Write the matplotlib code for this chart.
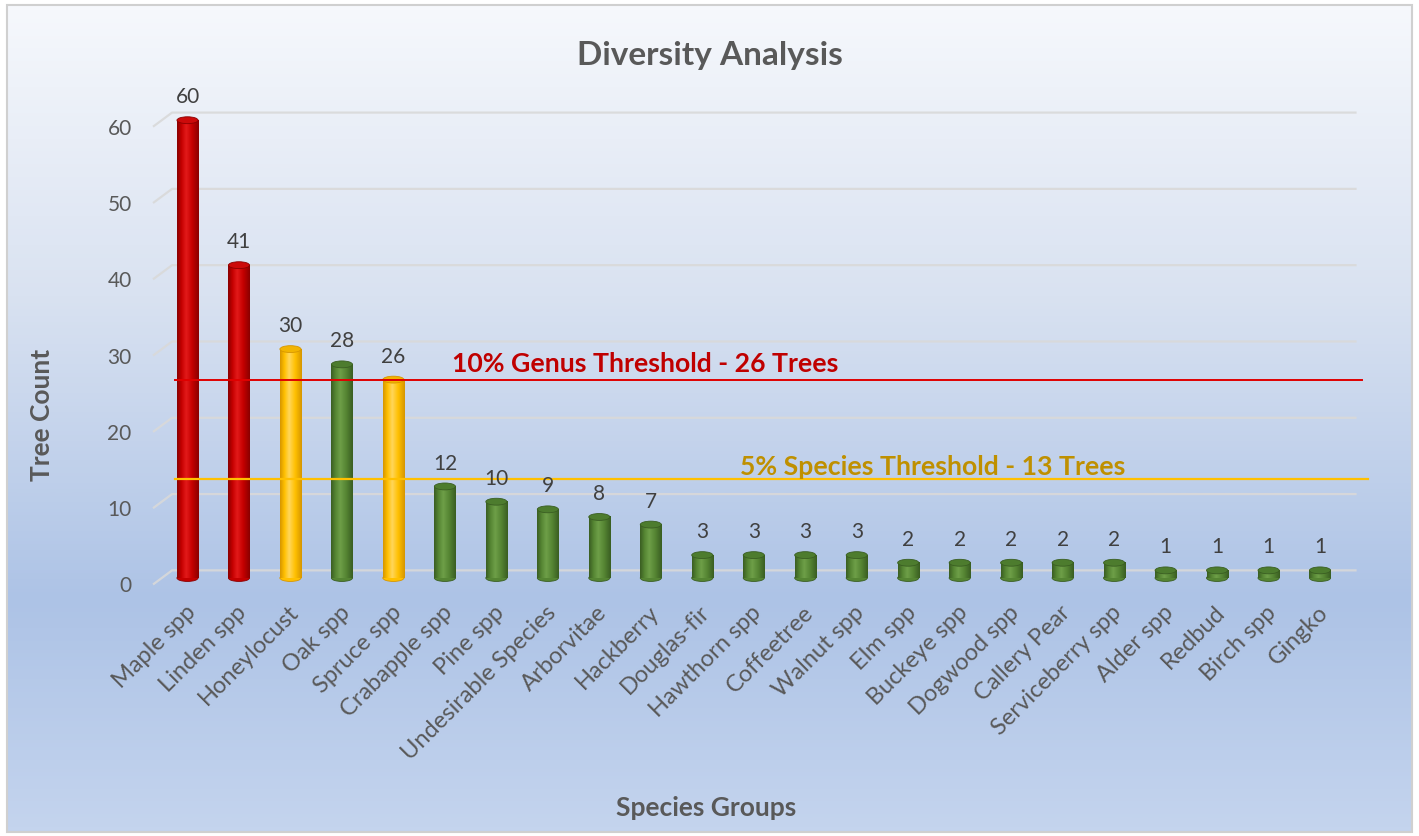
import numpy as np
import matplotlib
matplotlib.use("Agg")
import matplotlib.pyplot as plt
from matplotlib.patches import Ellipse, Rectangle
from matplotlib.colors import LinearSegmentedColormap
from matplotlib.transforms import ScaledTranslation

# Données
species = ["Maple spp", "Linden spp", "Honeylocust", "Oak spp", "Spruce spp",
           "Crabapple spp", "Pine spp", "Undesirable Species", "Arborvitae",
           "Hackberry", "Douglas-fir", "Hawthorn spp", "Coffeetree", "Walnut spp",
           "Elm spp", "Buckeye spp", "Dogwood spp", "Callery Pear",
           "Serviceberry spp", "Alder spp", "Redbud", "Birch spp", "Gingko"]
counts = [60, 41, 30, 28, 26, 12, 10, 9, 8, 7, 3, 3, 3, 3, 2, 2, 2, 2, 2, 1, 1, 1, 1]
status = ["genus", "genus", "species", "ok", "species"] + ["ok"] * 18
yticks = [0, 10, 20, 30, 40, 50, 60]
genus_threshold = 26
species_threshold = 13

# Couleurs des cylindres : bord, milieu, reflet, dessus
shades = {
    "genus": ("#8a0000", "#c40000", "#e31a1a", "#cc0a0a"),
    "species": ("#d69600", "#ffc000", "#ffd65a", "#f2b400"),
    "ok": ("#3a5e22", "#558533", "#6e9f48", "#4d7c2e"),
}

plt.rcParams["font.family"] = ["Lato", "DejaVu Sans"]

W, H = 1419, 836
fig = plt.figure(figsize=(W / 100, H / 100), dpi=100)

# fond dégradé du graphique
bg = fig.add_axes([7 / W, 4 / H, 1405 / W, 827 / H], zorder=0)
bg.axis("off")
grad_cmap = LinearSegmentedColormap.from_list(
    "bg", [(0.0, "#f6f8fc"), (0.35, "#d9e2f1"), (0.72, "#adc3e6"), (1.0, "#c4d4ee")])
bg.imshow(np.linspace(0, 1, 256)[:, None], cmap=grad_cmap, aspect="auto",
          extent=[0, 1, 1, 0], interpolation="bicubic")
bg.set_xlim(0, 1)
bg.set_ylim(1, 0)
fig.patches.append(Rectangle((7 / W, 4 / H), 1405 / W, 827 / H, transform=fig.transFigure,
                             fill=False, edgecolor="#d0d0d0", linewidth=1.5, zorder=5))

ax = fig.add_axes([140 / W, (H - 592) / H, 1255 / W, 492 / H], zorder=1)
ax.set_facecolor("none")

x = np.arange(len(species))
bw = 0.41
eh = 0.9

# grille en perspective (mur du fond)
for v in yticks:
    ax.plot([-0.67, -0.30, 22.71], [v - 0.85, v + 1.0, v + 1.0], color="#d9d9d9",
            lw=1.6, alpha=0.9, zorder=1, solid_capstyle="butt")

def cylinder(xc, h, key):
    edge, mid, light, top = shades[key]
    cmap = LinearSegmentedColormap.from_list(
        key, [(0.0, edge), (0.2, mid), (0.42, light), (0.7, mid), (1.0, edge)])
    ax.imshow(np.linspace(0, 1, 64)[None, :], cmap=cmap, aspect="auto",
              extent=[xc - bw / 2, xc + bw / 2, 0, h], interpolation="bilinear", zorder=3)
    ax.add_patch(Ellipse((xc, 0), bw, eh, facecolor=mid, edgecolor=edge, lw=0.6, zorder=2.9))
    ax.add_patch(Ellipse((xc, h), bw, eh, facecolor=top, edgecolor=edge, lw=0.6, zorder=3.2))

for xi, c, s in zip(x, counts, status):
    cylinder(xi, c, s)
    ax.annotate(str(c), (xi, c), xytext=(0, 16.5), textcoords="offset points",
                ha="center", va="center", fontsize=15, color="#404040", zorder=4)

# seuils
ax.plot([-0.25, 22.82], [genus_threshold] * 2, color="#e00000", lw=1.4, zorder=3.5)
ax.plot([-0.25, 22.93], [species_threshold] * 2, color="#ffc000", lw=1.6, zorder=3.5)
ax.text(5.14, 28.05, "10% Genus Threshold - 26 Trees", color="#c00000", fontsize=19.2,
        fontweight="bold", ha="left", va="center", zorder=4)
ax.text(10.73, 14.55, "5% Species Threshold - 13 Trees", color="#bf9000", fontsize=19.2,
        fontweight="bold", ha="left", va="center", zorder=4)

ax.set_xlim(-0.9227, 23.456)
ax.set_ylim(-1.835, 62.65)
ax.set_xticks(x)
ax.set_xticklabels(species, rotation=45, ha="right", rotation_mode="anchor",
                   fontsize=17, color="#595959")
ax.set_yticks(yticks)
ax.set_yticklabels([str(v) for v in yticks], fontsize=15, color="#595959")
ax.tick_params(axis="both", length=0)
ax.tick_params(axis="x", pad=7)
ax.tick_params(axis="y", pad=6)
for lab in ax.get_yticklabels():
    lab.set_transform(lab.get_transform() + ScaledTranslation(0, -6.5 / 100, fig.dpi_scale_trans))
for lab in ax.get_xticklabels():
    lab.set_transform(lab.get_transform() + ScaledTranslation(-3 / 100, 0, fig.dpi_scale_trans))
for s in ax.spines.values():
    s.set_visible(False)

ax.set_ylabel("Tree Count", fontsize=19, fontweight="bold", color="#595959", va="center")
ax.yaxis.set_label_coords(-0.078, 0.36)
ax.set_xlabel("Species Groups", fontsize=19, fontweight="bold", color="#595959", va="center")
ax.xaxis.set_label_coords(0.451, -0.439)

fig.text(0.5, 1 - 56 / H, "Diversity Analysis", ha="center", va="center", fontsize=24,
         fontweight="bold", color="#595959")

fig.savefig("out.png", dpi=100)
